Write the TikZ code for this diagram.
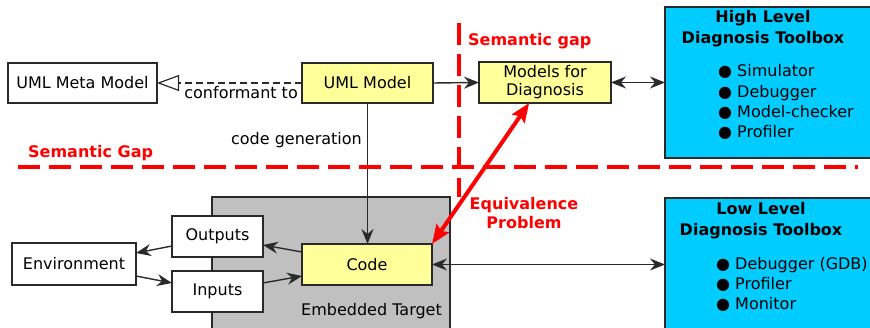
\documentclass[tikz,border=0pt]{standalone}
\usepackage{fontspec}
\setmainfont{DejaVu Sans}
\usetikzlibrary{arrows.meta,calc}
\definecolor{boxyellow}{HTML}{FFFF99}
\definecolor{toolcyan}{HTML}{00CCFF}
\definecolor{targetgray}{HTML}{C0C0C0}
\definecolor{linegray}{HTML}{2A2A2A}
\begin{document}
\begin{tikzpicture}[x=1pt,y=-1pt,
  font=\fontsize{16}{19}\selectfont,
  box/.style={draw=linegray, line width=1.2pt, inner sep=0pt, outer sep=0pt, align=center},
  ybox/.style={box, fill=boxyellow},
  wbox/.style={box, fill=white},
  cbox/.style={box, fill=toolcyan},
  arr/.style={-{Stealth[length=15pt,width=12pt,inset=5pt]}, line width=1.4pt, draw=linegray},
  darr/.style={{Stealth[length=15pt,width=12pt,inset=5pt]}-{Stealth[length=15pt,width=12pt,inset=5pt]}, line width=1.4pt, draw=linegray},
  redarr/.style={{Stealth[length=19pt,width=15pt,inset=3pt]}-{Stealth[length=19pt,width=15pt,inset=3pt]}, line width=4pt, draw=red},
  gapline/.style={draw=red, line width=3.5pt, dash pattern=on 22pt off 9pt},
  redlabel/.style={text=red, font=\fontsize{16}{19}\selectfont\bfseries, inner sep=0pt, align=center},
  plain/.style={inner sep=0pt, align=center},
  listtext/.style={inner sep=0pt, align=left, font=\fontsize{16}{20.3}\selectfont},
  titletext/.style={inner sep=0pt, align=center, font=\fontsize{16}{21}\selectfont\bfseries}
]
\useasboundingbox (0,0) rectangle (870,328);

% embedded target background
\node[box, fill=targetgray, minimum width=238pt, minimum height=143pt] (target) at (331,268.5) {};
\node[plain, anchor=east] (targetlbl) at (442,311) {Embedded Target};

% toolboxes
\node[cbox, minimum width=220pt, minimum height=151pt] (high) at (775,82.5) {};
\node[titletext] (hightitle) at (763,29) {High Level\\Diagnosis Toolbox};
\node[listtext, anchor=north west] (highlist) at (718,64.5) {● Simulator\\● Debugger\\● Model-checker\\● Profiler};

\node[cbox, minimum width=220pt, minimum height=142pt] (low) at (775,269) {};
\node[titletext] (lowtitle) at (761,221) {Low Level\\Diagnosis Toolbox};
\node[listtext, anchor=north west] (lowlist) at (716,257) {● Debugger (GDB)\\● Profiler\\● Monitor};

% boxes
\node[wbox, minimum width=149pt, minimum height=40pt] (meta) at (82.5,83) {UML Meta Model};
\node[ybox, minimum width=131pt, minimum height=40pt] (uml) at (367.5,83) {UML Model};
\node[ybox, minimum width=132pt, minimum height=41pt, font=\fontsize{16}{18}\selectfont] (mfd) at (545,82.5) {Models for\\Diagnosis};
\node[ybox, minimum width=130pt, minimum height=41pt] (code) at (367,264.5) {Code};
\node[wbox, minimum width=91pt, minimum height=41pt] (outputs) at (217.5,236.5) {Outputs};
\node[wbox, minimum width=91pt, minimum height=41pt] (inputs) at (217.5,291.5) {Inputs};
\node[wbox, minimum width=124pt, minimum height=42pt] (env) at (74,264) {Environment};

% labels
\node[plain, anchor=east] (conflbl) at (298,93) {conformant to};
\node[plain, anchor=east] (genlbl) at (362,140) {code generation};
\node[redlabel, anchor=west] (gapA) at (28,153) {Semantic Gap};
\node[redlabel, anchor=west] (gapB) at (468,41) {Semantic gap};
\node[redlabel] (equiv) at (524,213.5) {Equivalence\\Problem};

% connectors
\draw[line width=1.2pt, draw=linegray, dash pattern=on 7pt off 4pt,
      -{Triangle[open,length=22pt,width=16pt,fill=white]}] (uml.west) -- (meta.east);
\draw[arr] (uml.east) -- (mfd.west);
\draw[darr] (mfd.east) -- (mfd.east -| high.west);
\draw[arr] (uml.south) -- (uml.south |- code.north);
\draw[darr] (code.east) -- (code.east -| low.west);
\draw[arr] ([yshift=12.5pt]code.west) -- ([yshift=-8.5pt]outputs.east);
\draw[arr] ([yshift=8.5pt]inputs.east) -- ([yshift=-11.5pt]code.west);
\draw[arr] ([yshift=-9.5pt]outputs.west) -- ([yshift=11pt]env.east);
\draw[arr] ([yshift=-12pt]env.east) -- ([yshift=8.5pt]inputs.west);

% semantic gap lines
\coordinate (vgapTop) at (459,23);
\coordinate (vgapBot) at (459,197);
\coordinate (hgapL) at (18,167);
\coordinate (hgapR) at (858,167);
\draw[gapline] (vgapTop) -- (vgapBot);
\draw[gapline] (hgapL) -- (hgapR);

% equivalence arrow
\draw[redarr] (code.north east) -- ($(mfd.south west)!0.38!(mfd.south east)$);
\end{tikzpicture}
\end{document}
